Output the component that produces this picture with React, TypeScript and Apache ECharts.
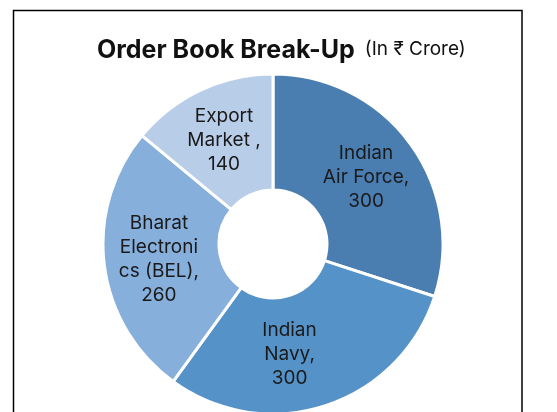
import React, { useEffect, useRef } from "react";
import * as echarts from "echarts";

const categories = [
  "Indian\nAir Force,",
  "Indian\nNavy,",
  "Bharat\nElectroni\ncs (BEL),",
  "Export\nMarket ,",
];
const values = [300, 300, 260, 140];
const colors = ["#4a7db0", "#5592c8", "#86afdc", "#b8cde8"];

export default function App() {
  const ref = useRef<HTMLDivElement>(null);
  useEffect(() => {
    if (!ref.current) return;
    const chart = echarts.init(ref.current, undefined, { renderer: "svg" });
    chart.setOption({
      animation: false,
      title: {
        text: "{a|Order Book Break-Up}  {b|(In ₹ Crore)}",
        left: 92,
        top: 31,
        textStyle: {
          rich: {
            a: { fontFamily: "Inter", fontWeight: "bold", fontSize: 25, color: "#111" },
            b: { fontFamily: "Inter", fontWeight: "normal", fontSize: 19, color: "#111" },
          },
        },
      },
      graphic: [
        {
          type: "rect",
          shape: { x: 13.5, y: 10.5, width: 508.5, height: 420 },
          style: { fill: "none", stroke: "#000", lineWidth: 1.5 },
          silent: true,
        },
      ],
      series: [
        {
          type: "pie",
          center: [273, 244],
          radius: [54, 170],
          startAngle: 90,
          clockwise: true,
          itemStyle: { borderColor: "#fff", borderWidth: 3 },
          label: {
            show: true,
            position: "inside",
            formatter: (p: any) => `${p.name}\n${p.value}`,
            fontFamily: "Inter",
            fontSize: 19,
            lineHeight: 24,
            color: "#1a1a1a",
            align: "center",
          },
          labelLine: { show: false },
          data: categories.map((c, i) => ({
            name: c,
            value: values[i],
            itemStyle: { color: colors[i] },
            label: i === 1 ? { padding: [0, 38, 0, 0] } : undefined,
          })),
        },
      ],
    });
    return () => chart.dispose();
  }, []);
  return (
    <div
      ref={ref}
      style={{ position: "fixed", left: 0, top: 0, width: 557, height: 412 }}
    />
  );
}
